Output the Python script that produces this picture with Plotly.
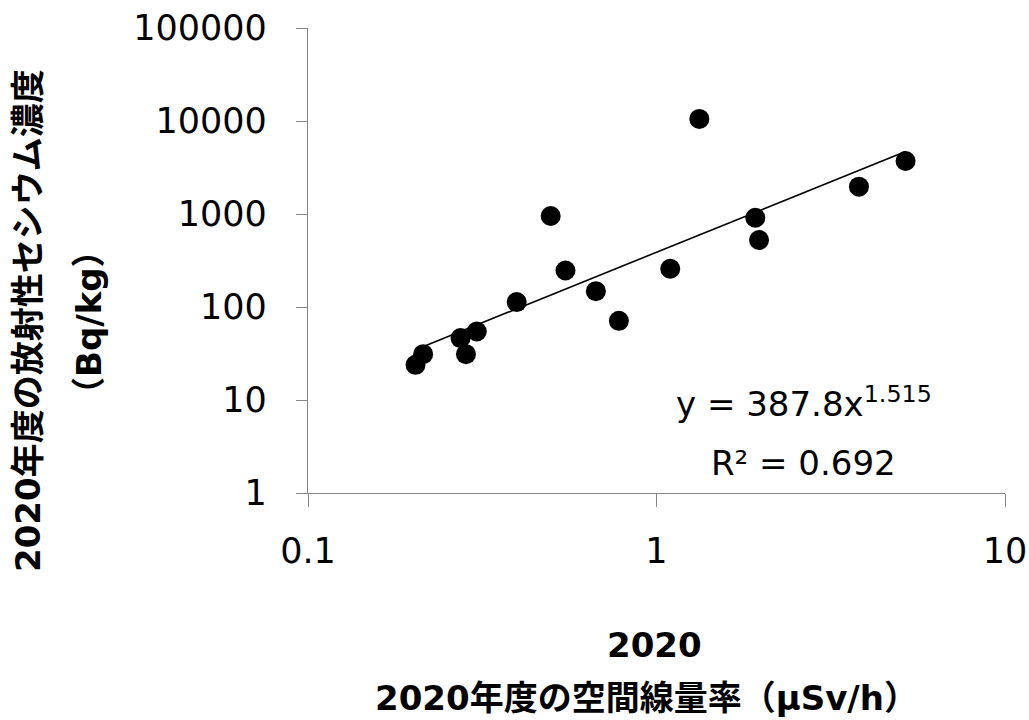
import plotly.graph_objects as go

# Data
dose_rate = [0.2035, 0.214, 0.274, 0.284, 0.305, 0.397, 0.497, 0.548,
             0.670, 0.780, 1.095, 1.327, 1.921, 1.969, 3.81, 5.185]
cesium = [23.9, 31.1, 46.3, 31.1, 54.5, 113, 951, 247,
          148, 71, 258, 10540, 912, 525, 1967, 3717]

# Power-law trendline coefficients shown on the chart
fit_coef = 387.8
fit_exp = 1.515
fit_r2 = 0.692

x_ticks = [0.1, 1, 10]
x_tick_labels = ["0.1", "1", "10"]
y_ticks = [1, 10, 100, 1000, 10000, 100000]
y_tick_labels = ["1", "10", "100", "1000", "10000", "100000"]

trend_x = [min(dose_rate), max(dose_rate)]
trend_y = [fit_coef * v ** fit_exp for v in trend_x]

FONT = "DejaVu Sans, Verdana, Noto Sans CJK JP, sans-serif"
AXIS_COLOR = "#868686"

fig = go.Figure()
fig.add_trace(go.Scatter(
    x=dose_rate, y=cesium, mode="markers",
    marker=dict(size=20, color="black", line=dict(width=0)),
    showlegend=False, hoverinfo="x+y",
))
fig.add_trace(go.Scatter(
    x=trend_x, y=trend_y, mode="lines",
    line=dict(color="black", width=1.6),
    showlegend=False, hoverinfo="skip",
))

fig.update_layout(
    width=1029, height=720,
    margin=dict(l=308, r=24, t=28, b=227, autoexpand=False),
    paper_bgcolor="white", plot_bgcolor="white",
    font=dict(family=FONT, color="black"),
    xaxis=dict(
        type="log", range=[-1, 1],
        tickvals=x_ticks, ticktext=x_tick_labels,
        showgrid=False, zeroline=False,
        showline=True, linecolor=AXIS_COLOR, linewidth=1.3,
        ticks="outside", ticklen=13, tickcolor=AXIS_COLOR, tickwidth=1.3,
        tickfont=dict(size=35, family=FONT, color="black"),
        ticklabelstandoff=14,
        automargin=False,
    ),
    yaxis=dict(
        type="log", range=[0, 5],
        tickvals=y_ticks, ticktext=y_tick_labels,
        showgrid=False, zeroline=False,
        showline=True, linecolor=AXIS_COLOR, linewidth=1.3,
        ticks="outside", ticklen=11, tickcolor=AXIS_COLOR, tickwidth=1.3,
        tickfont=dict(size=35, family=FONT, color="black"),
        ticklabelstandoff=22,
        automargin=False,
    ),
)

title_font = dict(family=FONT, size=34, color="black", weight="bold")
annos = [
    dict(text="2020年度の放射性セシウム濃度", x=-0.4017, y=0.370, textangle=-90),
    dict(text="（Bq/kg）", x=-0.3142, y=0.3677, textangle=-90),
    dict(text="2020", x=0.4978, y=-0.3269, textangle=0),
    dict(text="2020年度の空間線量率（μSv/h）", x=0.4856, y=-0.440, textangle=0),
]
for a in annos:
    fig.add_annotation(xref="paper", yref="paper", showarrow=False,
                       xanchor="center", yanchor="middle",
                       font=title_font, **a)

eq_font = dict(family=FONT, size=34, color="black")
fig.add_annotation(xref="paper", yref="paper", showarrow=False,
                   xanchor="center", yanchor="middle", x=0.7116, y=0.195,
                   text=f"y = {fit_coef}x<sup>{fit_exp}</sup>", font=eq_font)
fig.add_annotation(xref="paper", yref="paper", showarrow=False,
                   xanchor="center", yanchor="middle", x=0.7116, y=0.065,
                   text=f"R² = {fit_r2}", font=eq_font)

fig.write_html("out.html")
